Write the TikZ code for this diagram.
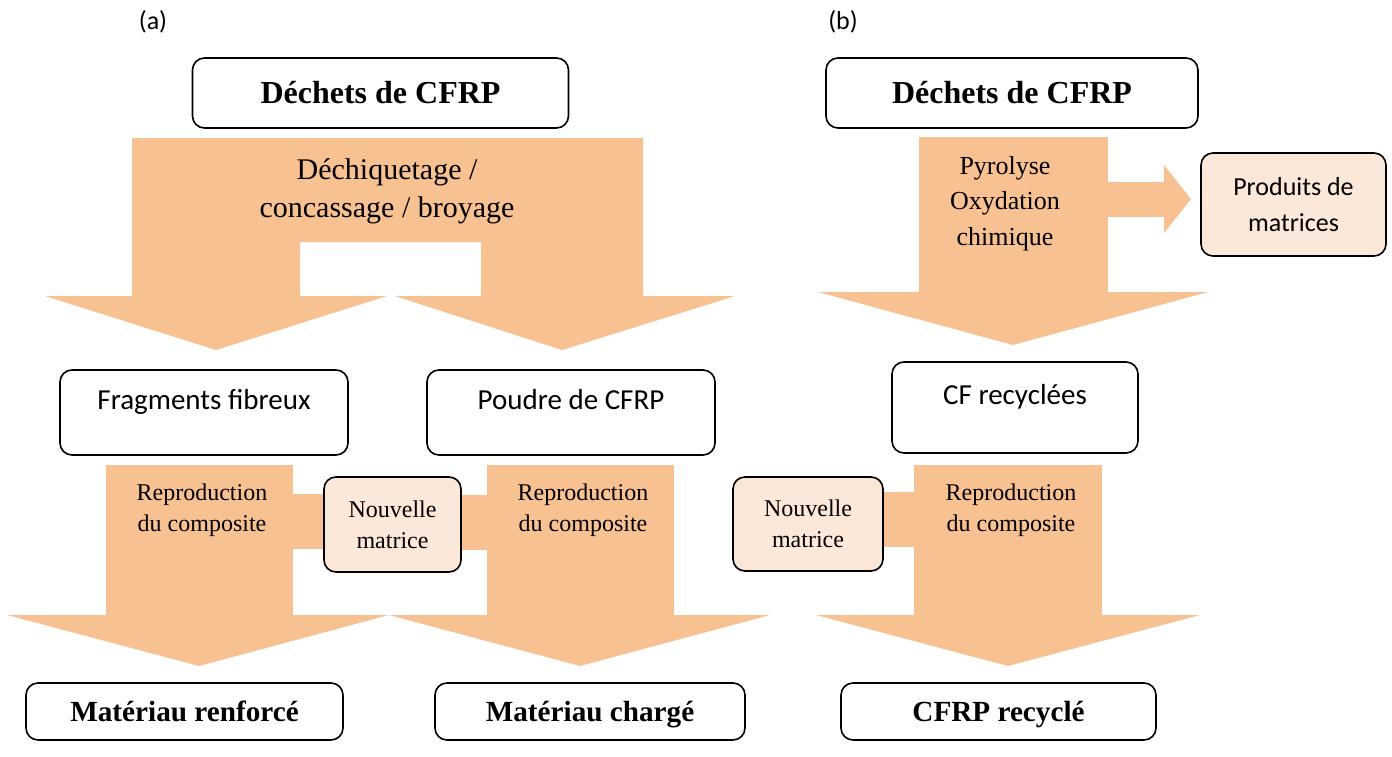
\documentclass[tikz,border=0pt]{standalone}
\usepackage{fontspec}
\setmainfont{Liberation Serif}
\newfontfamily\calibri{Carlito}
\usetikzlibrary{calc}
\usetikzlibrary{positioning}

\definecolor{fleche}{HTML}{F8C191}
\definecolor{rose}{HTML}{FCE8D9}

\tikzset{
  boite/.style={draw,rounded corners=6pt,line width=0.8pt,align=center,fill=white},
  gras/.style={boite,font=\rmfamily\fontsize{14.6}{18}\selectfont\bfseries},
  sans/.style={boite,font=\calibri\fontsize{14.5}{17}\selectfont,text height=10pt,text depth=13pt},
  matr/.style={boite,fill=rose},
  fl/.style={fill=fleche},
  etiq/.style={align=center,inner sep=0pt}
}

\begin{document}
\begin{tikzpicture}[x=0.5pt,y=-0.5pt]
\useasboundingbox (0,0) rectangle (1392,756);

% fleches (a)
\fill[fl] (132,138) -- (643,138) -- (643,296) -- (481,296) -- (481,242) -- (300,242) -- (300,296) -- (132,296) -- cycle;
\fill[fl] (45,296) -- (387,296) -- (216,350) -- cycle;
\fill[fl] (395,296) -- (735,296) -- (562,350) -- cycle;

\fill[fl] (106,465) rectangle (293,615);
\fill[fl] (293,494) rectangle (330,549);
\fill[fl] (7,615) -- (389,615) -- (199,666) -- cycle;
\fill[fl] (487,465) rectangle (674,615);
\fill[fl] (450,495) rectangle (487,550);
\fill[fl] (389,615) -- (770,615) -- (580,666) -- cycle;

% fleches (b)
\fill[fl] (919,137) rectangle (1108,292);
\fill[fl] (1108,182) rectangle (1164,217);
\fill[fl] (1164,165) -- (1191,199) -- (1164,233) -- cycle;
\fill[fl] (818,292) -- (1208,292) -- (1013,345) -- cycle;

\fill[fl] (914,465) rectangle (1102,615);
\fill[fl] (875,492) rectangle (914,547);
\fill[fl] (816,615) -- (1200,615) -- (1008,666) -- cycle;

% boites
\node[font=\calibri\fontsize{13}{15}\selectfont] (la) at (153,22) {(a)};
\node[font=\calibri\fontsize{13}{15}\selectfont] (lb) at (843,22) {(b)};

\node[gras,font=\rmfamily\fontsize{16}{18}\selectfont\bfseries,minimum width=188pt,minimum height=35pt] (dechA) at (380.5,93) {Déchets de CFRP};
\node[gras,font=\rmfamily\fontsize{16}{18}\selectfont\bfseries,minimum width=186pt,minimum height=35pt] (dechB) at (1012,93) {Déchets de CFRP};

\node[sans,minimum width=144pt,minimum height=42.5pt] (frag) at (204,412.5) {Fragments fibreux};
\node[sans,minimum width=144pt,minimum height=42.5pt] (poudre) at (571,412.5) {Poudre de CFRP};
\node[sans,minimum width=123pt,minimum height=45.5pt] (cfrec) at (1015,407.5) {CF recyclées};

\node[matr,font=\rmfamily\fontsize{12}{15.5}\selectfont,minimum width=68.5pt,minimum height=47.5pt] (nouvA) at (392.5,524.5) {Nouvelle\\matrice};
\node[matr,font=\rmfamily\fontsize{12}{15.5}\selectfont,minimum width=75pt,minimum height=47pt] (nouvB) at (808,524) {Nouvelle\\matrice};
\node[matr,font=\calibri\fontsize{13}{18}\selectfont,minimum width=92.5pt,minimum height=51.5pt] (prod) at (1293.5,204.5) {Produits de\\matrices};

\node[gras,text height=10pt,text depth=0pt,minimum width=158.5pt,minimum height=28.5pt] (renf) at (184.5,711.5) {Matériau renforcé};
\node[gras,text height=10pt,text depth=0pt,minimum width=155pt,minimum height=28.5pt] (charg) at (590,711.5) {Matériau chargé};
\node[gras,text height=10pt,text depth=0pt,minimum width=157.5pt,minimum height=28.5pt] (cfrp) at (998.5,711.5) {CFRP recyclé};

% textes des fleches
\node[etiq,font=\rmfamily\fontsize{15}{19}\selectfont] (broy) at (387,191) {Déchiquetage /\\concassage / broyage};
\node[etiq,font=\rmfamily\fontsize{12}{15.5}\selectfont] (reprA) at (202,510) {Reproduction\\du composite};
\node[etiq,font=\rmfamily\fontsize{12}{15.5}\selectfont] (reprB) at (583,510) {Reproduction\\du composite};
\node[etiq,font=\rmfamily\fontsize{12}{15.5}\selectfont] (reprC) at (1011,510) {Reproduction\\du composite};
\node[etiq,font=\rmfamily\fontsize{13}{17.75}\selectfont] (pyro) at (1005,203.5) {Pyrolyse\\Oxydation\\chimique};

\end{tikzpicture}
\end{document}
